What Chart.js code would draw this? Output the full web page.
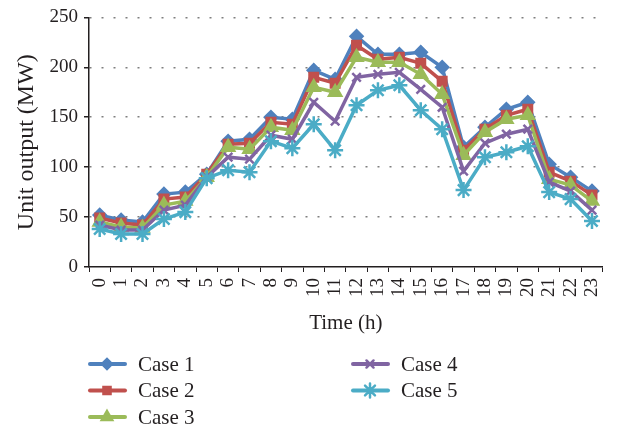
<!DOCTYPE html>
<html>
<head>
<meta charset="utf-8">
<title>Unit output</title>
<script src="https://cdn.jsdelivr.net/npm/chart.js@4"></script>
<style>
    html, body { margin: 0; padding: 0; background: #ffffff; }
    #wrap { width: 621px; height: 427px; position: relative; }
</style>
</head>
<body>
<div id="wrap"><canvas id="outputChart"></canvas></div>
<script>

// --------------------------------------------
// Data
// --------------------------------------------

const hours = ["0", "1", "2", "3", "4", "5", "6", "7", "8", "9", "10", "11",
               "12", "13", "14", "15", "16", "17", "18", "19", "20", "21", "22", "23"];

const case1 = [52, 47, 45, 73, 75, 93, 126, 128, 150, 148, 197, 188,
               231, 213, 213, 215, 200, 120, 140, 158, 165, 103, 90, 76];

const case2 = [49, 44, 42, 68, 70, 93, 123, 124, 145, 143, 190, 184,
               222, 208, 210, 204, 186, 117, 138, 152, 158, 95, 86, 72];

const case3 = [45, 40, 39, 62, 66, 90, 120, 118, 140, 137, 180, 175,
               210, 205, 205, 193, 173, 112, 135, 148, 152, 88, 82, 66];

const case4 = [42, 37, 37, 57, 62, 90, 110, 108, 132, 128, 165, 146,
               190, 193, 195, 178, 160, 96, 124, 133, 138, 85, 76, 57];

const case5 = [38, 33, 33, 48, 55, 89, 97, 95, 126, 119, 143, 117,
               162, 177, 182, 157, 138, 77, 110, 115, 121, 75, 68, 46];

const caseNames = ["Case 1", "Case 2", "Case 3", "Case 4", "Case 5"];

const yTicks = [0, 50, 100, 150, 200, 250];


// --------------------------------------------
// Styles
// --------------------------------------------

const serif = "'Liberation Serif', 'DejaVu Serif', serif";

const seriesStyle = [
    { color: "#4F81BD", point: "rectRot", radius: 6 },
    { color: "#C0504D", point: "rect", radius: 6 },
    { color: "#9BBB59", point: "triangle", radius: 7 },
    { color: "#8064A2", point: "crossRot", radius: 6 },
    { color: "#4BACC6", point: "star", radius: 8 }
];

const seriesData = [case1, case2, case3, case4, case5];


// --------------------------------------------
// Legend Plugin (two columns, column first)
// --------------------------------------------

const columnLegend = {

    id: "columnLegend",

    afterDraw(chart) {

        const ctx = chart.ctx;
        const left = chart.chartArea.left;
        const top = chart.chartArea.bottom + 97;

        ctx.save();
        ctx.font = "21px " + serif;
        ctx.textBaseline = "middle";

        chart.data.datasets.forEach((ds, i) => {

            const col = i < 3 ? 0 : 1;
            const row = i < 3 ? i : i - 3;

            const x = left + 1 + col * 263;
            const y = top + row * 26.5;

            ctx.strokeStyle = ds.borderColor;
            ctx.lineWidth = 4;
            ctx.lineCap = "round";
            ctx.beginPath();
            ctx.moveTo(x, y);
            ctx.lineTo(x + 35, y);
            ctx.stroke();

            ctx.fillStyle = ds.borderColor;
            ctx.lineWidth = 2.5;
            Chart.helpers.drawPoint(ctx, {
                pointStyle: ds.pointStyle,
                radius: ds.pointRadius - 1,
                borderWidth: 2.5,
                rotation: 0
            }, x + 17, y);

            ctx.fillStyle = "#231f20";
            ctx.fillText(ds.label, x + 48, y + 1);

        });

        ctx.restore();

    }

};


// --------------------------------------------
// Chart
// --------------------------------------------

const datasets = seriesData.map((values, i) => ({

    label: caseNames[i],

    data: values,

    borderColor: seriesStyle[i].color,

    backgroundColor: seriesStyle[i].color,

    borderWidth: 3.5,

    pointStyle: seriesStyle[i].point,

    pointRadius: seriesStyle[i].radius,

    pointBorderWidth: 2.5,

    tension: 0,

    order: 5 - i

}));

new Chart(

    document.getElementById("outputChart"),

    {

        type: "line",

        data: {

            labels: hours,

            datasets: datasets

        },

        options: {

            responsive: true,

            maintainAspectRatio: false,

            animation: false,

            layout: {

                padding: { top: 8, right: 7, bottom: 85, left: 0 }

            },

            plugins: {

                legend: { display: false },

                tooltip: { enabled: false }

            },

            scales: {

                x: {

                    offset: true,

                    grid: {

                        offset: true,

                        drawOnChartArea: false,

                        drawTicks: true,

                        tickLength: 5,

                        tickColor: "#231f20"

                    },

                    border: { color: "#231f20", width: 1.5 },

                    ticks: {

                        color: "#231f20",

                        font: { family: serif, size: 19 },

                        autoSkip: false,

                        minRotation: 90,

                        maxRotation: 90,

                        padding: 6

                    },

                    title: {

                        display: true,

                        text: "Time (h)",

                        color: "#231f20",

                        font: { family: serif, size: 21 },

                        padding: { top: 2, bottom: 6 }

                    },

                    afterFit(scale) { scale.height = 75; }

                },

                y: {

                    min: 0,

                    max: 250,

                    afterBuildTicks(scale) {

                        scale.ticks = yTicks.map(v => ({ value: v }));

                    },

                    grid: {

                        color: ctx => ctx.tick && ctx.tick.value === 0 ? "rgba(0,0,0,0)" : "#7f7f7f",

                        lineWidth: 1.5,

                        tickBorderDash: [],

                        tickColor: "#231f20",

                        tickLength: 5

                    },

                    border: { color: "#231f20", width: 1.5, dash: [2, 10] },

                    ticks: {

                        color: "#231f20",

                        font: { family: serif, size: 19 },

                        padding: 6

                    },

                    title: {

                        display: true,

                        text: "Unit output (MW)",

                        color: "#231f20",

                        font: { family: serif, size: 24 },

                        padding: { top: 12, bottom: 2 }

                    },

                    afterFit(scale) { scale.width = 89; }

                }

            }

        },

        plugins: [columnLegend]

    }

);

</script>
</body>
</html>
